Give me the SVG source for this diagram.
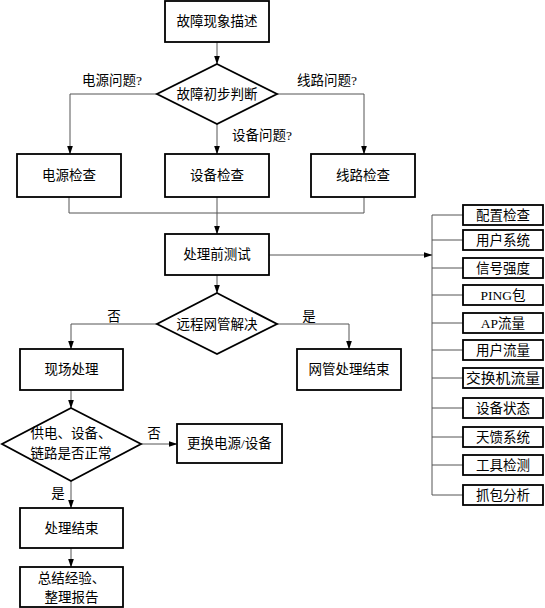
<svg xmlns="http://www.w3.org/2000/svg" width="545" height="608" viewBox="0 0 545 608">
<style>
.box{fill:#fff;stroke:#000;stroke-width:1.8}
.con{fill:none;stroke:#555;stroke-width:1}
.arr{marker-end:url(#ah)}
text{font-family:"Liberation Serif","Noto Sans CJK SC",serif;font-size:13.5px;fill:#000;dominant-baseline:central}
.c{text-anchor:middle}
</style>
<defs>
<marker id="ah" markerUnits="userSpaceOnUse" markerWidth="9" markerHeight="6" refX="8.5" refY="3" orient="auto">
<path d="M0,0 L9,3 L0,6 z" fill="#000"/>
</marker>
</defs>
<rect width="545" height="608" fill="#fff"/>
<g id="connectors">
<path class="con arr" d="M217,42 V64"/>
<path class="con arr" d="M157,94 H70 V154"/>
<path class="con arr" d="M277,94 H364 V154"/>
<path class="con arr" d="M217,124 V154"/>
<path class="con" d="M69,197 V213 H364 V197"/>
<path class="con arr" d="M217,197 V234"/>
<path class="con arr" d="M269,255 H432"/>
<path class="con" d="M432,215 V495"/>
<path class="con" d="M432,215 H463 M432,240 H463 M432,268 H463 M432,295 H463 M432,323 H463 M432,350 H463 M432,378 H463 M432,408 H463 M432,437 H463 M432,465 H463 M432,495 H463"/>
<path class="con arr" d="M217,275 V293"/>
<path class="con arr" d="M157,324 H71 V349"/>
<path class="con arr" d="M277,324 H349 V349"/>
<path class="con arr" d="M71,390 V408"/>
<path class="con arr" d="M141,444 H177"/>
<path class="con arr" d="M71,481 V508"/>
<path class="con arr" d="M71,548 V567"/>
<text x="82" y="80">电源问题?</text>
<text x="297" y="80">线路问题?</text>
<text x="232" y="135">设备问题?</text>
<text class="c" x="114" y="316">否</text>
<text class="c" x="309" y="316">是</text>
<text class="c" x="154" y="433">否</text>
<text class="c" x="58" y="493">是</text>
</g>
<g id="n_desc"><rect class="box" x="165" y="1" width="104" height="41"/><text class="c" x="217" y="21.5">故障现象描述</text></g>
<g id="n_judge"><polygon class="box" points="217,64 277,94 217,124 157,94"/><text class="c" x="217" y="94">故障初步判断</text></g>
<g id="n_power"><rect class="box" x="17" y="154" width="104" height="43"/><text class="c" x="69" y="175.5">电源检查</text></g>
<g id="n_dev"><rect class="box" x="165" y="154" width="104" height="43"/><text class="c" x="217" y="175.5">设备检查</text></g>
<g id="n_line"><rect class="box" x="311" y="154" width="104" height="43"/><text class="c" x="363" y="175.5">线路检查</text></g>
<g id="n_pretest"><rect class="box" x="165" y="234" width="104" height="41"/><text class="c" x="217" y="254.5">处理前测试</text></g>
<g id="n_remote"><polygon class="box" points="217,293 277,324 217,354 157,324"/><text class="c" x="217" y="324">远程网管解决</text></g>
<g id="n_onsite"><rect class="box" x="20" y="349" width="103" height="41"/><text class="c" x="71.5" y="369.5">现场处理</text></g>
<g id="n_nmend"><rect class="box" x="297" y="349" width="104" height="41"/><text class="c" x="349" y="369.5">网管处理结束</text></g>
<g id="n_check"><polygon class="box" points="71,408 141,444 71,481 2,444"/><text class="c" x="71" y="433">供电、设备、</text><text class="c" x="71" y="453">链路是否正常</text></g>
<g id="n_replace"><rect class="box" x="177" y="424" width="105" height="39"/><text class="c" x="229.5" y="443.5">更换电源/设备</text></g>
<g id="n_end"><rect class="box" x="20" y="508" width="103" height="40"/><text class="c" x="71.5" y="528">处理结束</text></g>
<g id="n_summary"><rect class="box" x="20" y="567" width="103" height="40"/><text class="c" x="71.5" y="578">总结经验、</text><text class="c" x="71.5" y="597">整理报告</text></g>
<g id="n_l1"><rect class="box" x="463" y="205" width="80" height="20"/><text class="c" x="503" y="215">配置检查</text></g>
<g id="n_l2"><rect class="box" x="463" y="230" width="80" height="20"/><text class="c" x="503" y="240">用户系统</text></g>
<g id="n_l3"><rect class="box" x="463" y="258" width="80" height="20"/><text class="c" x="503" y="268">信号强度</text></g>
<g id="n_l4"><rect class="box" x="463" y="285" width="80" height="20"/><text class="c" x="503" y="295">PING包</text></g>
<g id="n_l5"><rect class="box" x="463" y="313" width="80" height="20"/><text class="c" x="503" y="323">AP流量</text></g>
<g id="n_l6"><rect class="box" x="463" y="340" width="80" height="20"/><text class="c" x="503" y="350">用户流量</text></g>
<g id="n_l7"><rect class="box" x="463" y="368" width="80" height="20"/><text class="c" x="503" y="378" textLength="74" lengthAdjust="spacingAndGlyphs">交换机流量</text></g>
<g id="n_l8"><rect class="box" x="463" y="398" width="80" height="20"/><text class="c" x="503" y="408">设备状态</text></g>
<g id="n_l9"><rect class="box" x="463" y="427" width="80" height="20"/><text class="c" x="503" y="437">天馈系统</text></g>
<g id="n_l10"><rect class="box" x="463" y="455" width="80" height="20"/><text class="c" x="503" y="465">工具检测</text></g>
<g id="n_l11"><rect class="box" x="463" y="485" width="80" height="20"/><text class="c" x="503" y="495">抓包分析</text></g>
</svg>
